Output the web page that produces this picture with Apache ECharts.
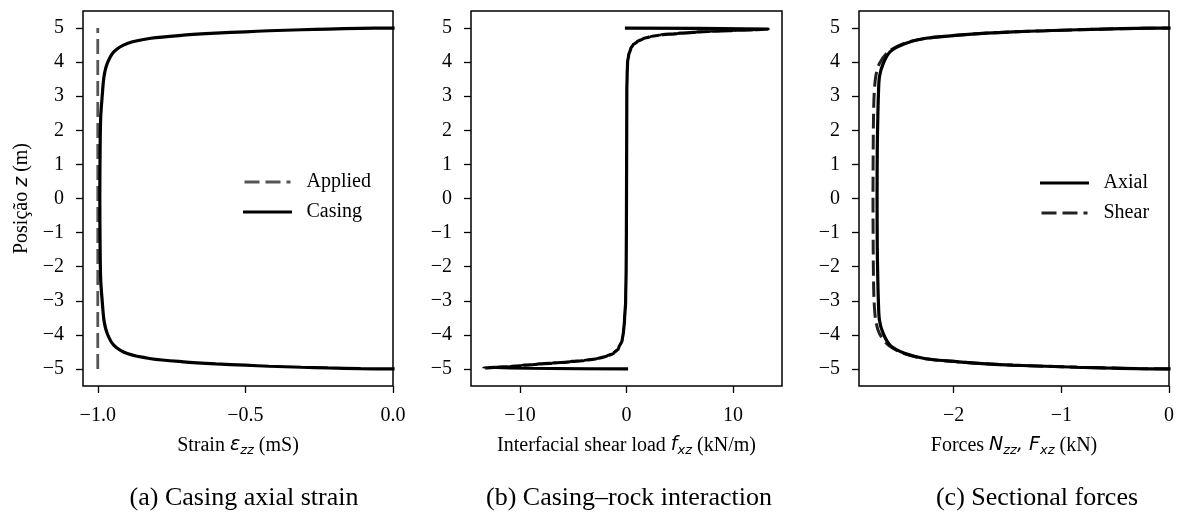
<!DOCTYPE html>
<html>
<head>
<meta charset="utf-8">
<script src="https://cdn.jsdelivr.net/npm/echarts@6/dist/echarts.min.js"></script>
<style>
html,body{margin:0;padding:0;background:#fff;}
#c{width:1178px;height:513px;}
</style>
</head>
<body>
<div id="c"></div>
<script>
// ---------- data ----------
const zProfile = [-5.00, -4.99, -4.97, -4.95, -4.92, -4.89, -4.85, -4.79, -4.70, -4.55, -4.31, -3.96, -3.57, -3.00, -2.40, -1.50, 0.00,
                  1.50, 2.40, 3.00, 3.57, 3.96, 4.31, 4.55, 4.70, 4.79, 4.85, 4.89, 4.92, 4.95, 4.97, 4.99, 5.00];
const strainCasing = [0, -0.11, -0.22, -0.31, -0.42, -0.50, -0.60, -0.71, -0.82, -0.90, -0.945, -0.968, -0.979, -0.985, -0.990, -0.992, -0.993,
                      -0.992, -0.990, -0.985, -0.979, -0.968, -0.945, -0.90, -0.82, -0.71, -0.60, -0.50, -0.42, -0.31, -0.22, -0.11, 0];
const zApplied = [-5, 5];
const strainApplied = [-1, -1];

const zShearLoad = [-5.00, -4.975, -4.95, -4.93, -4.90, -4.86, -4.83, -4.79, -4.75, -4.70, -4.62, -4.54, -4.40, -4.15, -3.90, -3.60, -3.00, -2.00, -1.00, 0.00,
                    1.00, 2.00, 3.20, 3.60, 4.00, 4.20, 4.40, 4.50, 4.60, 4.68, 4.75, 4.80, 4.84, 4.88, 4.905, 4.93, 4.95, 4.97, 5.00];
const shearLoad = [0, -13.4, -12.2, -11.0, -9.8, -8.4, -7.0, -5.3, -4.0, -2.75, -1.8, -1.2, -0.75, -0.4, -0.28, -0.19, -0.08, -0.03, -0.01, 0,
                   0.01, 0.02, 0.03, 0.06, 0.1, 0.2, 0.4, 0.6, 1.0, 1.5, 2.25, 3.2, 4.8, 6.5, 7.9, 10.0, 12.0, 13.3, 0];

const forceAxial = [0, -0.30, -0.60, -0.85, -1.15, -1.45, -1.70, -1.96, -2.26, -2.45, -2.59, -2.655, -2.69, -2.70, -2.705, -2.71, -2.712,
                    -2.71, -2.705, -2.70, -2.69, -2.655, -2.59, -2.45, -2.26, -1.96, -1.70, -1.45, -1.15, -0.85, -0.60, -0.30, 0];
const forceShear = [0, -0.30, -0.60, -0.85, -1.15, -1.45, -1.70, -1.96, -2.26, -2.46, -2.605, -2.69, -2.725, -2.74, -2.745, -2.748, -2.75,
                    -2.748, -2.745, -2.74, -2.725, -2.69, -2.605, -2.46, -2.26, -1.96, -1.70, -1.45, -1.15, -0.85, -0.60, -0.30, 0];

const yTicks = [-5, -4, -3, -2, -1, 0, 1, 2, 3, 4, 5];
const xTicksA = [-1, -0.5, 0];
const xTickLabelsA = ['\u22121.0', '\u22120.5', '0.0'];
const xTicksB = [-10, 0, 10];
const xTickLabelsB = ['\u221210', '0', '10'];
const xTicksC = [-2, -1, 0];
const xTickLabelsC = ['\u22122', '\u22121', '0'];
const captions = ['(a) Casing axial strain', '(b) Casing\u2013rock interaction', '(c) Sectional forces'];

// ---------- helpers ----------
const SERIF = 'Liberation Serif';
const MATH = 'DejaVu Sans';
function pairs(xs, zs) { return xs.map((v, i) => [v, zs[i]]); }
const richStyles = {
  n: { fontFamily: SERIF, fontSize: 20, color: '#000' },
  m: { fontFamily: MATH, fontStyle: 'italic', fontSize: 19, color: '#000' },
  s: { fontFamily: MATH, fontStyle: 'italic', fontSize: 13, color: '#000', padding: [10, 0, 0, 0] }
};

function makeX(idx, min, max, ticks, labels, name) {
  return {
    type: 'value', gridIndex: idx, min: min, max: max,
    axisLine: { show: false, onZero: false },
    splitLine: { show: false },
    axisTick: { show: true, customValues: ticks, length: 7, lineStyle: { color: '#000', width: 1.3 } },
    axisLabel: {
      customValues: ticks, margin: 20,
      fontFamily: SERIF, fontSize: 20, color: '#000',
      formatter: v => { const i = ticks.findIndex(t => Math.abs(t - v) < 1e-9); return i >= 0 ? labels[i] : ''; }
    },
    name: name, nameLocation: 'middle', nameGap: 48,
    nameTextStyle: { rich: richStyles }
  };
}
function makeY(idx, withName) {
  return {
    type: 'value', gridIndex: idx, min: -5.5, max: 5.5,
    axisLine: { show: false, onZero: false },
    splitLine: { show: false },
    axisTick: { show: true, customValues: yTicks, length: 7, lineStyle: { color: '#000', width: 1.3 } },
    axisLabel: {
      customValues: yTicks, margin: 19,
      fontFamily: SERIF, fontSize: 20, color: '#000',
      formatter: v => String(v).replace('-', '\u2212')
    },
    name: withName ? '{n|Posi\u00e7\u00e3o }{m|z}{n| (m)}' : '',
    nameLocation: 'middle', nameRotate: 90, nameGap: 51,
    nameTextStyle: { rich: richStyles }
  };
}
const gridBase = { show: true, borderColor: '#000', borderWidth: 1.5, backgroundColor: 'transparent', containLabel: false };
const legendBase = {
  orient: 'vertical', padding: 0,
  itemWidth: 46, itemHeight: 14, itemGap: 10,
  itemStyle: { color: 'rgba(0,0,0,0)', borderColor: 'rgba(0,0,0,0)', borderWidth: 0, opacity: 0 },
  lineStyle: { width: 3 },
  textStyle: { fontFamily: SERIF, fontSize: 20, color: '#000', padding: [0, 0, 0, 11] }
};

const chart = echarts.init(document.getElementById('c'), null, { renderer: 'canvas' });
chart.setOption({
  animation: false,
  backgroundColor: '#fff',
  grid: [
    Object.assign({ left: 83, top: 11, width: 310, height: 375 }, gridBase),
    Object.assign({ left: 471, top: 11, width: 311, height: 375 }, gridBase),
    Object.assign({ left: 859, top: 11, width: 310, height: 375 }, gridBase)
  ],
  xAxis: [
    makeX(0, -1.05, 0, xTicksA, xTickLabelsA, '{n|Strain }{m|\u03b5}{s|zz}{n| (mS)}'),
    makeX(1, -14.6, 14.6, xTicksB, xTickLabelsB, '{n|Interfacial shear load }{m|f}{s|xz}{n| (kN/m)}'),
    makeX(2, -2.88, 0, xTicksC, xTickLabelsC, '{n|Forces }{m|N}{s|zz}{m|, F}{s|xz}{n| (kN)}')
  ],
  yAxis: [makeY(0, true), makeY(1, false), makeY(2, false)],
  legend: [
    Object.assign({ data: ['Applied', 'Casing'], left: 243, top: 172 }, legendBase),
    Object.assign({ data: ['Axial', 'Shear'], left: 1040, top: 173 }, legendBase)
  ],
  series: [
    { name: 'Applied', type: 'line', xAxisIndex: 0, yAxisIndex: 0, symbol: 'none', silent: true,
      data: pairs(strainApplied, zApplied),
      lineStyle: { color: '#555', width: 2.8, type: [15, 6] }, itemStyle: { color: '#555' } },
    { name: 'Casing', type: 'line', xAxisIndex: 0, yAxisIndex: 0, symbol: 'none', silent: true,
      data: pairs(strainCasing, zProfile), smooth: 0.3,
      lineStyle: { color: '#000', width: 3.2, cap: 'square' }, itemStyle: { color: '#000' } },
    { name: 'Shear load', type: 'line', xAxisIndex: 1, yAxisIndex: 1, symbol: 'none', silent: true,
      data: pairs(shearLoad, zShearLoad), smooth: 0.3, smoothMonotone: 'y',
      lineStyle: { color: '#000', width: 3.2, cap: 'square', join: 'round' }, itemStyle: { color: '#000' } },
    { name: 'Shear', type: 'line', xAxisIndex: 2, yAxisIndex: 2, symbol: 'none', silent: true,
      data: pairs(forceShear, zProfile), smooth: 0.3,
      lineStyle: { color: '#222', width: 3, type: [15, 6] }, itemStyle: { color: '#222' } },
    { name: 'Axial', type: 'line', xAxisIndex: 2, yAxisIndex: 2, symbol: 'none', silent: true,
      data: pairs(forceAxial, zProfile), smooth: 0.3,
      lineStyle: { color: '#000', width: 3.2, cap: 'square' }, itemStyle: { color: '#000' } }
  ],
  graphic: [
    { type: 'text', x: 244, y: 498, style: { text: captions[0], font: '26px "Liberation Serif"', fill: '#000', textAlign: 'center', textVerticalAlign: 'middle' } },
    { type: 'text', x: 629, y: 498, style: { text: captions[1], font: '26px "Liberation Serif"', fill: '#000', textAlign: 'center', textVerticalAlign: 'middle' } },
    { type: 'text', x: 1037, y: 498, style: { text: captions[2], font: '26px "Liberation Serif"', fill: '#000', textAlign: 'center', textVerticalAlign: 'middle' } }
  ]
});
</script>
</body>
</html>
